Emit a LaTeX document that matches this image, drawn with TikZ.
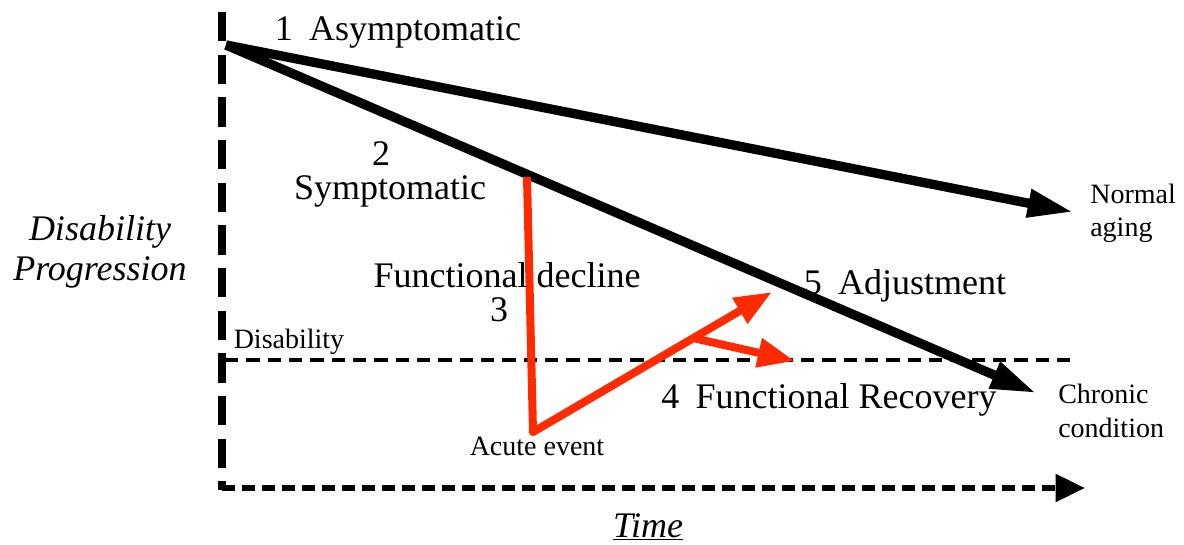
\documentclass[tikz,border=0pt]{standalone}
\usepackage{fontspec}
\setmainfont{Liberation Serif}
\usetikzlibrary{arrows.meta}
\definecolor{redline}{HTML}{FF2A00}
\tikzset{
  big/.style={font=\fontsize{27}{31}\selectfont, inner sep=0pt, align=center},
  small/.style={font=\fontsize{21}{25}\selectfont, inner sep=0pt, align=left},
  blackarrow/.style={line width=7pt, -{Triangle[length=34pt,width=20pt]}},
  redarrow/.style={line width=6pt, draw=redline, line join=round, -{Triangle[length=28pt,width=21pt]}, color=redline},
  vaxis/.style={line width=6pt, dash pattern=on 22pt off 10pt},
  haxis/.style={line width=4.5pt, dash pattern=on 10pt off 5pt, -{Triangle[length=22pt,width=20pt]}},
  disline/.style={line width=3.5pt, dash pattern=on 10pt off 6pt},
}
\begin{document}
\begin{tikzpicture}[x=0.75pt,y=-0.75pt]
\useasboundingbox (0,0) rectangle (1184,545);
% coordinates
\coordinate (vtop) at (222,12);
\coordinate (origin) at (222,490);
\coordinate (hend) at (1085,488);
\coordinate (hstart) at (222,488);
\coordinate (dstart) at (225,360);
\coordinate (dend) at (1072,360);
\coordinate (start) at (226,45);
\coordinate (normtip) at (1073,212);
\coordinate (chrtip) at (1036,393);
\coordinate (rtop) at (527,177);
\coordinate (rbot) at (533,432);
\coordinate (rtip) at (772,292);
\coordinate (bstart) at (693,338);
\coordinate (btip) at (795,361);
% axes
\draw[vaxis] (vtop) -- (origin);
\draw[haxis] (hstart) -- (hend);
\draw[disline] (dstart) -- (dend);
% black lines
\draw[blackarrow] (start) -- (normtip);
\draw[blackarrow] (start) -- (chrtip);
% red lines
\draw[redarrow] (rtop) -- (rbot) -- (rtip);
\draw[redarrow] (bstart) -- (btip);
% texts
\node[big] (t1) at (398,32) {1\hspace{0.45em}Asymptomatic};
\node[big] (t2a) at (381,154) {2};
\node[big] (t2b) at (390,191) {Symptomatic};
\node[big, font=\fontsize{27}{30}\selectfont\itshape] (dp) at (100,252) {Disability\\Progression};
\node[big] (fd) at (507,275) {Functional decline};
\node[big] (t3) at (499,310) {3};
\node[big] (t5) at (905,286) {5\hspace{0.45em}Adjustment};
\node[small] (dis) at (289,342) {Disability};
\node[big] (t4) at (829,400) {4\hspace{0.45em}Functional Recovery};
\node[small] (ae) at (537,446) {Acute event};
\node[small, anchor=west] (na) at (1090,213) {Normal\\aging};
\node[small, anchor=west] (cc) at (1058,411) {Chronic\\condition};
\node[big, font=\fontsize{27}{31}\selectfont\itshape] (time) at (648,527) {\underline{Time}};
\end{tikzpicture}
\end{document}
